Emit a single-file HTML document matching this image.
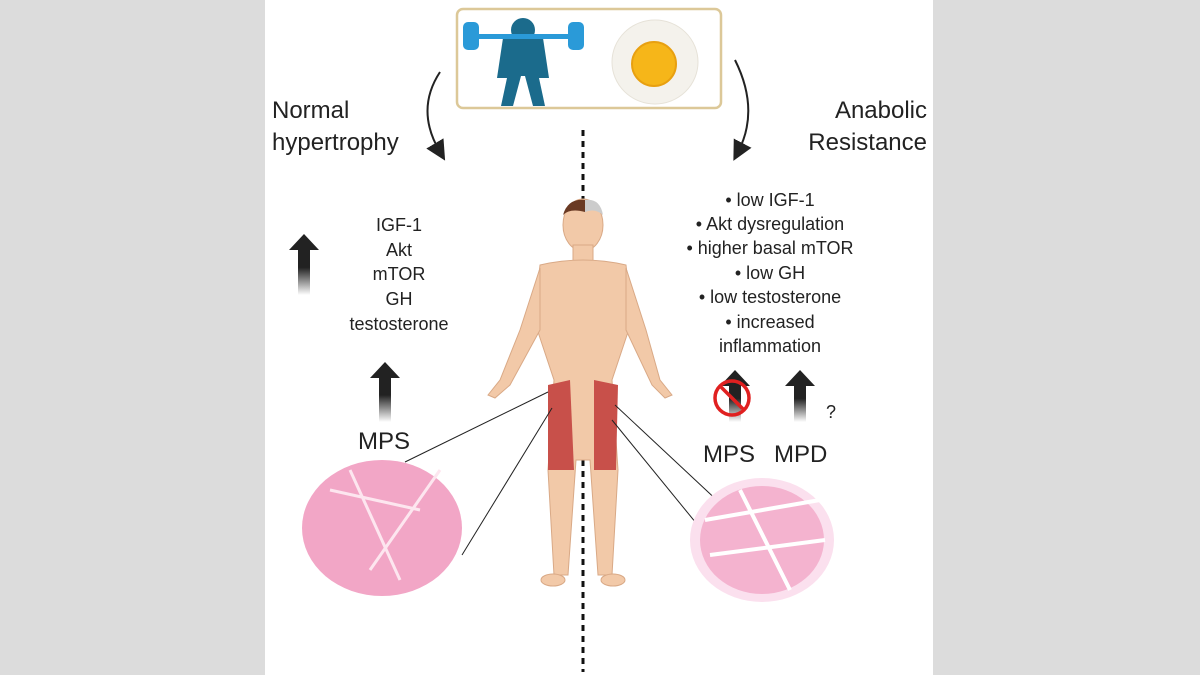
<!DOCTYPE html>
<html><head><style>
body{margin:0;width:1200px;height:675px;background:#dcdcdc;overflow:hidden;font-family:"Liberation Sans",sans-serif;}
</style></head><body>
<svg width="1200" height="675" style="position:absolute;left:0;top:0">
<defs>
<linearGradient id="ag" x1="0" y1="1" x2="0" y2="0"><stop offset="0" stop-color="#222" stop-opacity="0"/><stop offset="0.45" stop-color="#222"/><stop offset="1" stop-color="#222"/></linearGradient>
<marker id="ah" markerWidth="10" markerHeight="10" refX="5" refY="5" orient="auto"><path d="M0,0 L10,5 L0,10 z" fill="#222"/></marker>
</defs>
<rect x="265" y="0" width="668" height="675" fill="#fff"/>
<rect x="457" y="9" width="264" height="99" rx="6" fill="#fff" stroke="#dcc898" stroke-width="2.5"/>
<g fill="#1b6b8c">
<circle cx="523" cy="30" r="12"/>
<path d="M503 38 h40 l6 40 l-10 0 l6 28 h-12 l-8 -30 h-4 l-8 30 h-12 l6 -28 l-10 0 z"/>
</g>
<rect x="470" y="34" width="110" height="5" fill="#2a9ad8"/>
<rect x="463" y="22" width="16" height="28" rx="5" fill="#2a9ad8"/>
<rect x="568" y="22" width="16" height="28" rx="5" fill="#2a9ad8"/>
<ellipse cx="655" cy="62" rx="43" ry="42" fill="#f4f2ec" stroke="#e6e2d8"/>
<circle cx="654" cy="64" r="22" fill="#f6b619" stroke="#e8a010" stroke-width="2"/>
<path d="M440 72 Q415 110 440 152" fill="none" stroke="#222" stroke-width="2" marker-end="url(#ah)"/>
<path d="M735 60 Q760 110 738 152" fill="none" stroke="#222" stroke-width="2" marker-end="url(#ah)"/>
<line x1="583" y1="130" x2="583" y2="672" stroke="#111" stroke-width="3" stroke-dasharray="6,5"/>
<g fill="#f2c9a8" stroke="#d9a986" stroke-width="1">
<ellipse cx="583" cy="225" rx="20" ry="26"/>
<rect x="573" y="245" width="20" height="18"/>
<path d="M540 265 Q583 255 626 265 L632 320 L612 380 L618 470 L612 575 L598 575 L590 460 L576 460 L568 575 L554 575 L548 470 L554 380 L534 320 Z"/>
<path d="M540 268 L520 330 L500 380 L488 395 L495 398 L510 385 L540 330 Z"/>
<path d="M626 268 L646 330 L660 380 L672 395 L665 398 L652 385 L626 330 Z"/>
<ellipse cx="553" cy="580" rx="12" ry="6"/>
<ellipse cx="613" cy="580" rx="12" ry="6"/>
</g>
<path d="M563 215 Q568 198 585 200 L585 212 Q570 208 563 215Z" fill="#6a3a24"/>
<path d="M585 200 Q600 198 603 215 Q595 208 585 212Z" fill="#ccc"/>
<path d="M548 385 L570 380 L574 470 L548 470 Z" fill="#c8504a"/>
<path d="M594 380 L618 385 L616 470 L594 470 Z" fill="#c8504a"/>
<line x1="405" y1="462" x2="548" y2="392" stroke="#222"/>
<line x1="462" y1="555" x2="552" y2="408" stroke="#222"/>
<line x1="615" y1="405" x2="722" y2="505" stroke="#222"/>
<line x1="612" y1="420" x2="714" y2="545" stroke="#222"/>
<ellipse cx="382" cy="528" rx="80" ry="68" fill="#f2a6c6"/>
<path d="M330 490 L420 510 M350 470 L400 580 M440 470 L370 570" stroke="#fde6ef" stroke-width="3" fill="none"/>
<ellipse cx="762" cy="540" rx="72" ry="62" fill="#fbe0ee"/>
<ellipse cx="762" cy="540" rx="62" ry="54" fill="#f4b3cf"/>
<path d="M705 520 L820 500 M710 555 L825 540 M740 490 L790 590" stroke="#fff" stroke-width="4" fill="none"/>
<g fill="url(#ag)">
<path d="M298 295 V250 h-9 l15 -16 l15 16 h-9 V295 Z"/>
<path d="M379 422 V378 h-9 l15 -16 l15 16 h-9 V422 Z"/>
<path d="M729 422 V386 h-9 l15 -16 l15 16 h-9 V422 Z"/>
<path d="M794 422 V386 h-9 l15 -16 l15 16 h-9 V422 Z"/>
</g>
<circle cx="732" cy="398" r="17" fill="none" stroke="#e02020" stroke-width="3.5"/>
<line x1="720" y1="386" x2="744" y2="410" stroke="#e02020" stroke-width="3.5"/>
<g font-family="Liberation Sans, sans-serif" fill="#222">
<text x="272" y="118" font-size="24">Normal</text>
<text x="272" y="150" font-size="24">hypertrophy</text>
<text x="927" y="118" font-size="24" text-anchor="end">Anabolic</text>
<text x="927" y="150" font-size="24" text-anchor="end">Resistance</text>
<g font-size="18" text-anchor="middle">
<text x="399" y="231">IGF-1</text>
<text x="399" y="256">Akt</text>
<text x="399" y="280">mTOR</text>
<text x="399" y="305">GH</text>
<text x="399" y="330">testosterone</text>
<text x="770" y="206">• low IGF-1</text>
<text x="770" y="230">• Akt dysregulation</text>
<text x="770" y="254">• higher basal mTOR</text>
<text x="770" y="279">• low GH</text>
<text x="770" y="303">• low testosterone</text>
<text x="770" y="328">• increased</text>
<text x="770" y="352">inflammation</text>
</g>
<text x="358" y="449" font-size="24">MPS</text>
<text x="703" y="462" font-size="24">MPS</text>
<text x="774" y="462" font-size="24">MPD</text>
<text x="826" y="418" font-size="18">?</text>
</g>
</svg>
</body></html>
